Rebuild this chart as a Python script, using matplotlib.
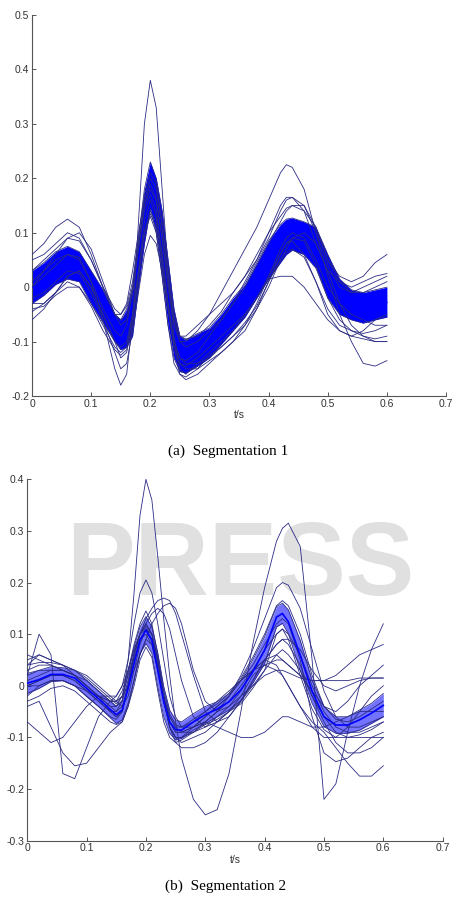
import numpy as np
import matplotlib
matplotlib.use("Agg")
import matplotlib.pyplot as plt

# shared time grid (s)
t = [0, .02, .04, .06, .08, .10, .12, .14, .15, .16, .17, .18, .19, .20, .21, .22, .23, .24, .25, .26,
     .28, .30, .32, .34, .36, .38, .40, .42, .43, .44, .46, .48, .50, .52, .54, .56, .58, .60]

# ---- segmentation 1: dense core band
a_upper = [.03, .045, .065, .075, .065, .03, -.005, -.05, -.06, -.04, .00, .09, .18, .23, .20, .14, .05, -.04, -.09, -.097,
           -.085, -.075, -.05, -.02, .005, .045, .085, .115, .125, .127, .12, .11, .06, .015, -.005, -.01, -.005, 0]
a_lower = [-.03, -.015, .005, .015, .01, -.03, -.065, -.10, -.115, -.11, -.09, .00, .08, .145, .10, .02, -.07, -.13, -.155, -.158,
           -.145, -.13, -.105, -.08, -.055, -.02, .015, .045, .06, .068, .06, .035, -.02, -.05, -.06, -.066, -.06, -.055]
a_mid = [0, .015, .035, .045, .04, .0, -.035, -.075, -.09, -.075, -.045, .045, .13, .19, .15, .08, -.01, -.085, -.12, -.128,
         -.115, -.1, -.078, -.05, -.025, .012, .05, .08, .092, .098, .09, .072, .02, -.018, -.033, -.038, -.033, -.028]

# ---- segmentation 1: outlier beats
a_big_r = [.0, .02, .04, .06, .055, .01, -.06, -.15, -.18, -.16, -.06, .12, .30, .38, .33, .18, .03, -.09, -.15, -.16,
           -.14, -.12, -.10, -.08, -.05, -.02, .02, .06, .08, .09, .085, .04, -.02, -.06, -.08, -.09, -.10, -.10]
a_big_t = [.01, .03, .05, .06, .05, .01, -.04, -.08, -.09, -.07, -.01, .07, .15, .19, .16, .09, .0, -.07, -.10, -.10,
           -.08, -.05, -.01, .03, .07, .11, .16, .21, .225, .22, .18, .10, .02, -.05, -.10, -.14, -.145, -.135]
a_flat_t = [-.06, -.04, -.01, .02, .03, .0, -.05, -.10, -.11, -.10, -.05, .03, .12, .16, .13, .06, -.03, -.11, -.14, -.145,
            -.13, -.11, -.09, -.07, -.05, -.02, .015, .02, .02, .02, .0, -.03, -.06, -.08, -.09, -.095, -.10, -.10]
a_high_p = [.06, .08, .11, .125, .11, .06, .0, -.05, -.05, -.03, .03, .10, .16, .20, .18, .11, .02, -.06, -.09, -.09,
            -.07, -.05, -.03, -.01, .02, .05, .09, .14, .16, .165, .15, .10, .04, .0, -.01, .0, .01, .02]
a_low_r = [-.02, -.01, .01, .03, .025, -.01, -.06, -.12, -.15, -.14, -.08, -.01, .06, .095, .08, .03, -.04, -.11, -.16, -.17,
           -.16, -.14, -.12, -.10, -.08, -.04, .01, .06, .08, .085, .06, .01, -.05, -.08, -.09, -.08, -.06, -.05]
a_mid_r = [-.045, -.03, -.01, .01, .0, -.03, -.07, -.11, -.12, -.11, -.05, .03, .10, .135, .11, .04, -.04, -.11, -.14, -.15,
           -.15, -.135, -.12, -.10, -.07, -.03, .02, .07, .09, .10, .09, .05, .0, -.03, -.05, -.06, -.07, -.07]
a_end_high = [.03, .05, .07, .09, .085, .05, .0, -.05, -.06, -.05, .0, .08, .15, .18, .16, .09, .01, -.06, -.10, -.11,
              -.10, -.08, -.06, -.03, .0, .04, .08, .12, .14, .15, .15, .11, .05, .02, .01, .02, .045, .06]
a_t165 = [.0, .03, .06, .09, .10, .07, .01, -.05, -.07, -.06, -.01, .07, .14, .17, .14, .06, -.03, -.10, -.13, -.135,
          -.12, -.09, -.06, -.03, .01, .05, .10, .15, .165, .165, .14, .08, .03, .01, .0, .01, .02, .025]
a_late_t = [-.03, -.03, -.01, .02, .03, .0, -.05, -.10, -.13, -.12, -.06, .02, .10, .14, .12, .05, -.03, -.10, -.13, -.14,
            -.14, -.13, -.11, -.09, -.07, -.04, .0, .05, .07, .09, .10, .08, .03, -.03, -.07, -.09, -.095, -.09]
a_edge_hi = [.05, .06, .08, .10, .09, .05, .0, -.04, -.05, -.035, .01, .09, .17, .21, .19, .12, .03, -.05, -.09, -.095,
             -.09, -.07, -.045, -.01, .02, .06, .10, .13, .145, .15, .14, .11, .05, .01, -.01, -.01, .0, .01]
a_edge_lo = [-.04, -.035, -.015, .0, .0, -.035, -.08, -.115, -.125, -.115, -.07, .02, .10, .13, .10, .02, -.07, -.14, -.16, -.165,
             -.15, -.125, -.11, -.09, -.065, -.035, .01, .05, .065, .07, .055, .01, -.04, -.07, -.08, -.085, -.08, -.07]

# ---- segmentation 2: core band
b_upper = [.024, .03, .037, .035, .03, .011, -.01, -.03, -.04, -.028, .024, .075, .114, .134, .114, .063, -.002, -.047, -.066, -.07,
           -.054, -.04, -.031, -.015, .011, .05, .095, .153, .16, .147, .088, .011, -.04, -.06, -.06, -.047, -.034, -.015]
b_lower = [-.015, -.005, .008, .01, .0, -.021, -.04, -.062, -.073, -.066, -.034, .011, .063, .082, .063, -.002, -.06, -.092, -.105, -.102,
           -.086, -.073, -.06, -.047, -.028, .005, .043, .114, .121, .101, .03, -.034, -.079, -.092, -.092, -.086, -.073, -.06]
b_mid = [.005, .012, .022, .022, .015, -.005, -.025, -.046, -.056, -.047, -.005, .043, .088, .108, .088, .03, -.031, -.07, -.085, -.086,
         -.07, -.056, -.045, -.031, -.008, .027, .069, .133, .14, .124, .059, -.011, -.06, -.076, -.076, -.066, -.053, -.038]

# ---- segmentation 2: outlier beats
b_big = [.0, .01, .02, .02, .01, -.01, -.03, -.05, -.05, -.03, .05, .18, .33, .40, .36, .25, .13, .02, -.07, -.14,
         -.22, -.25, -.24, -.17, -.05, .08, .19, .28, .305, .315, .27, .05, -.22, -.19, -.09, .0, .07, .12]
b_r205 = [.05, .06, .05, .04, .03, .02, .0, -.02, -.02, .0, .05, .12, .18, .205, .18, .12, .05, -.02, -.06, -.08,
          -.08, -.07, -.05, -.02, .02, .07, .13, .19, .20, .195, .15, .07, -.01, -.06, -.08, -.08, -.07, -.06]
b_late1 = [.02, .03, .03, .03, .02, .0, -.02, -.04, -.04, -.02, .02, .06, .10, .13, .15, .165, .17, .165, .14, .10,
           .02, -.05, -.07, -.06, -.03, .01, .05, .08, .09, .09, .07, .03, .0, -.01, .0, .01, .015, .015]
b_late2 = [-.02, .0, .01, .01, .0, -.01, -.02, -.03, -.03, -.01, .03, .07, .10, .12, .14, .15, .14, .11, .06, .01,
           -.06, -.08, -.07, -.05, -.02, .02, .04, .05, .05, .04, .02, -.01, -.04, -.05, -.03, .0, .02, .04]
b_late3 = [.04, .06, .05, .04, .02, .0, -.02, -.03, -.03, -.02, .0, .03, .06, .09, .12, .14, .155, .16, .15, .12,
           .03, -.03, -.05, -.04, -.02, .0, .02, .03, .03, .025, .015, .01, .01, .02, .04, .06, .07, .08]
b_deep_p = [.02, .10, .06, -.17, -.18, -.12, -.06, -.03, -.02, .0, .03, .07, .10, .11, .09, .04, -.02, -.06, -.08, -.09,
            -.09, -.08, -.06, -.04, -.01, .03, .07, .10, .11, .10, .06, .0, -.05, -.08, -.09, -.09, -.08, -.07]
b_dip16 = [-.04, -.03, -.08, -.13, -.155, -.15, -.12, -.09, -.08, -.07, -.04, .01, .06, .09, .08, .03, -.03, -.08, -.10, -.11,
           -.10, -.09, -.07, -.05, -.03, .0, .03, .06, .07, .06, .03, -.02, -.06, -.09, -.10, -.10, -.10, -.10]
b_dip11 = [-.07, -.09, -.11, -.10, -.07, -.04, -.02, -.02, -.03, -.04, -.02, .03, .08, .11, .10, .05, -.02, -.08, -.11, -.12,
           -.12, -.11, -.09, -.06, -.03, .01, .05, .08, .09, .08, .04, -.02, -.07, -.11, -.13, -.13, -.12, -.10]
b_end_low = [.01, .02, .03, .03, .02, .0, -.02, -.05, -.06, -.05, .0, .06, .10, .12, .10, .05, -.02, -.07, -.09, -.09,
             -.08, -.06, -.04, -.02, .01, .03, .04, .03, .02, .0, -.04, -.07, -.09, -.12, -.15, -.175, -.175, -.155]
b_flat_t = [.0, .01, .02, .02, .01, -.01, -.03, -.05, -.06, -.05, .0, .05, .09, .10, .08, .03, -.03, -.08, -.10, -.10,
            -.09, -.07, -.05, -.03, .0, .03, .05, .04, .02, .0, -.04, -.08, -.10, -.10, -.08, -.05, -.02, .0]
b_wavy = [.0, .0, .01, .01, .0, -.02, -.04, -.06, -.065, -.05, .0, .06, .10, .115, .10, .05, -.02, -.07, -.09, -.09,
          -.08, -.07, -.08, -.09, -.10, -.10, -.09, -.07, -.06, -.06, -.07, -.08, -.08, -.07, -.06, -.05, -.05, -.05]
b_drop = [.03, .04, .04, .03, .02, .0, -.02, -.04, -.05, -.04, .0, .05, .09, .11, .09, .04, -.03, -.08, -.10, -.10,
          -.08, -.06, -.04, -.02, .01, .04, .08, .12, .13, .12, .05, -.06, -.13, -.147, -.14, -.12, -.10, -.09]
b_end_mid = [.06, .05, .04, .03, .02, .01, -.01, -.03, -.04, -.03, .01, .06, .10, .12, .10, .05, -.02, -.06, -.08, -.08,
             -.07, -.05, -.03, -.01, .01, .03, .05, .06, .05, .04, .02, .01, .01, .01, .01, .015, .015, .015]
b_edge_hi = [.04, .045, .045, .04, .03, .015, -.005, -.025, -.035, -.02, .03, .08, .12, .145, .12, .06, -.01, -.055, -.075, -.08,
             -.065, -.05, -.035, -.015, .015, .055, .10, .155, .165, .155, .10, .02, -.04, -.065, -.07, -.06, -.045, -.03]
b_edge_lo = [-.03, -.02, -.005, .0, -.01, -.03, -.05, -.07, -.075, -.07, -.04, .0, .05, .075, .055, -.01, -.07, -.10, -.11, -.105,
             -.09, -.075, -.065, -.05, -.035, -.005, .03, .10, .11, .09, .02, -.045, -.085, -.10, -.10, -.095, -.085, -.07]

a_outliers = [a_big_r, a_big_t, a_flat_t, a_high_p, a_low_r, a_mid_r, a_end_high, a_t165, a_late_t,
              a_edge_hi, a_edge_lo]
b_outliers = [b_big, b_r205, b_late1, b_late2, b_late3, b_deep_p, b_dip16, b_dip11, b_end_low,
              b_flat_t, b_wavy, b_drop, b_end_mid, b_edge_hi, b_edge_lo]

navy = '#2b2b85'
blue = '#0000ff'
tick_col = '#333333'

fig = plt.figure(figsize=(4.54, 9.05), dpi=100)

# faint watermark behind the second panel
wm = fig.text(0.53, 0.372, 'PRESS', ha='center', va='center', fontsize=74, fontweight='bold',
              color='#e0e0e0', family='Liberation Sans')
wm.set_zorder(-5)

ax1 = fig.add_axes([0.0705, 0.5624, 0.912, 0.421])
ax2 = fig.add_axes([0.060, 0.0711, 0.915, 0.3993])
ax2.set_facecolor('none')
ax1.set_zorder(2)
ax2.set_zorder(2)


def style(ax, ylo, yhi, yticks):
    ax.set_xlim(0, 0.7)
    ax.set_ylim(ylo, yhi)
    xt = [0, .1, .2, .3, .4, .5, .6, .7]
    ax.set_xticks(xt)
    ax.set_xticklabels(['0' if v == 0 else '%g' % v for v in xt])
    ax.set_yticks(yticks)
    ax.set_yticklabels(['0' if abs(v) < 1e-9 else '%g' % v for v in yticks])
    for s in ['top', 'right']:
        ax.spines[s].set_visible(False)
    for s in ['left', 'bottom']:
        ax.spines[s].set_color('#555555')
        ax.spines[s].set_linewidth(0.8)
    ax.tick_params(direction='in', length=3, width=0.7, colors='#555555', labelcolor=tick_col,
                   labelsize=7.5, pad=2)
    for lab in ax.get_xticklabels() + ax.get_yticklabels():
        lab.set_family('Liberation Sans')
    ax.set_xlabel('t/s', fontsize=7.5, family='Liberation Sans', color=tick_col, labelpad=1)


# panel (a)
ax1.fill_between(t, a_lower, a_upper, color=blue, lw=0, zorder=2)
for y in [a_upper, a_lower]:
    ax1.plot(t, y, color=navy, lw=0.6, zorder=3)
ax1.plot(t, a_mid, color=blue, lw=1.0, zorder=3)
for y in a_outliers:
    ax1.plot(t, y, color=navy, lw=0.6, zorder=3)
style(ax1, -0.2, 0.5, [-.2, -.1, 0, .1, .2, .3, .4, .5])

# panel (b)
ax2.fill_between(t, b_lower, b_upper, color=blue, alpha=0.55, lw=0, zorder=2)
for y in b_outliers:
    ax2.plot(t, y, color=navy, lw=0.6, zorder=3)
for y in [b_upper, b_lower]:
    ax2.plot(t, y, color=navy, lw=0.6, zorder=3)
ax2.plot(t, b_mid, color=blue, lw=1.2, zorder=4)
style(ax2, -0.3, 0.4, [-.3, -.2, -.1, 0, .1, .2, .3, .4])

fig.text(0.502, 1 - 451 / 905, '(a)  Segmentation 1', ha='center', va='center',
         fontsize=11, family='Liberation Serif')
fig.text(0.496, 1 - 886 / 905, '(b)  Segmentation 2', ha='center', va='center',
         fontsize=11, family='Liberation Serif')

fig.savefig('out.png', dpi=100)
